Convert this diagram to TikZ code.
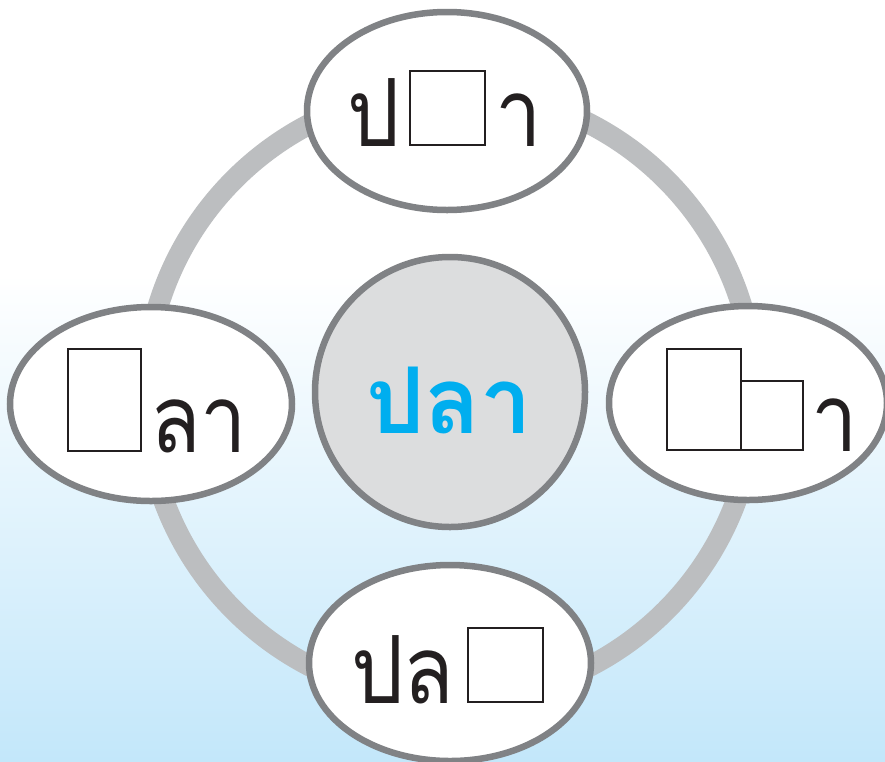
\documentclass[tikz,border=0pt]{standalone}
\usepackage{fontspec}
\usetikzlibrary{shapes.geometric}
\newfontfamily\thaifont[Script=Thai,FakeStretch=0.88]{Loma}
\newfontfamily\thaihub[Script=Thai]{Loma}
\definecolor{ringgray}{HTML}{BCBEC0}
\definecolor{edgegray}{HTML}{808285}
\definecolor{centerfill}{HTML}{DCDDDE}
\definecolor{thaiblue}{HTML}{00AEEF}
\definecolor{bglight}{HTML}{C3E7FA}
\definecolor{ink}{HTML}{231F20}
\tikzset{
  x=1pt,y=-1pt,
  oval/.style={ellipse,draw=edgegray,line width=6.5pt,fill=white,inner sep=0pt},
  hub/.style={circle,draw=edgegray,line width=6.5pt,fill=centerfill,inner sep=0pt,minimum size=270pt},
  word/.style={inner sep=0pt,anchor=base west,font=\thaifont\fontsize{94}{100}\selectfont,text=ink},
  blank/.style={draw=ink,line width=2.2pt,inner sep=0pt,anchor=south west},
}
\begin{document}
\begin{tikzpicture}
\useasboundingbox (0,0) rectangle (885,761);
\fill[white] (0,0) rectangle (885,275);
\shade[top color=white,bottom color=bglight] (0,274) rectangle (885,761);
% ring
\draw[ringgray,line width=21pt] (450,395) circle[radius=305];
% ellipses
\node[oval,minimum width=280pt,minimum height=198pt] (top) at (447,111) {};
\node[oval,minimum width=282pt,minimum height=194pt] (left) at (151,404) {};
\node[oval,minimum width=278pt,minimum height=194pt] (right) at (748,403) {};
\node[oval,minimum width=282pt,minimum height=196pt] (bottom) at (450,663) {};
\node[hub] (hub) at (450,392) {};
% center word
\node[word,font=\thaihub\bfseries\fontsize{92}{100}\selectfont,text=thaiblue] (hubword) at (366,433) {ปลา};
% top: ป_า
\node[word] (t1) at (347,146) {ป};
\node[blank,minimum width=75pt,minimum height=74pt] (tbox) at (409,146) {};
\node[word] (t2) at (495,146) {า};
% left: _ลา
\node[blank,minimum width=73pt,minimum height=102pt] (lbox) at (67,452) {};
\node[word] (l1) at (150,452) {ลา};
% right: __า
\node[blank,minimum width=74pt,minimum height=101pt] (rbox1) at (666,451) {};
\node[blank,minimum width=62pt,minimum height=69pt] (rbox2) at (740,451) {};
\node[word] (r1) at (811,451) {า};
% bottom: ปล_
\node[word] (b1) at (351,703) {ปล};
\node[blank,minimum width=75pt,minimum height=74pt] (bbox) at (467,703) {};
\end{tikzpicture}
\end{document}
